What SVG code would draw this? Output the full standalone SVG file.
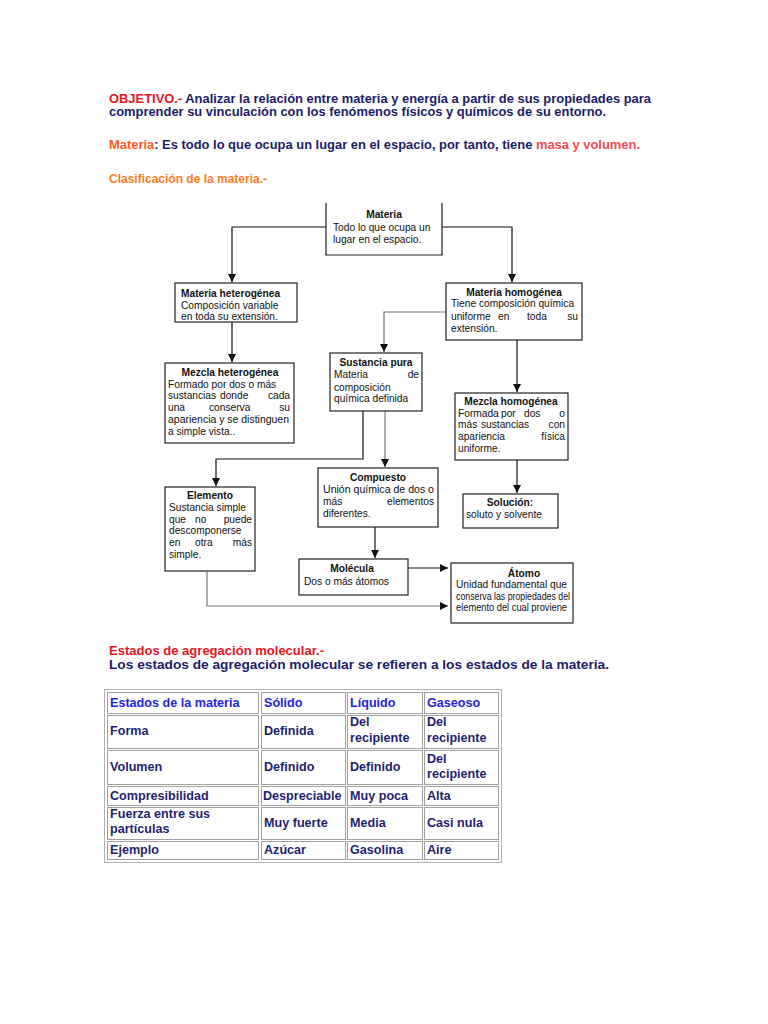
<svg xmlns="http://www.w3.org/2000/svg" width="768" height="1024" viewBox="0 0 768 1024">
<defs>
<marker id="arr" markerUnits="userSpaceOnUse" markerWidth="8" markerHeight="8" refX="8" refY="4" orient="auto">
<path d="M0,0 L8,4 L0,8 z" fill="#111"/>
</marker>
</defs>
<style>
.h{font-family:"Liberation Sans",Arial,sans-serif;font-weight:bold;font-size:13px;fill:#1c1c6a}
.red{fill:#e8141e}
.org{fill:#ff5a1e}
.org2{fill:#ff7a22}
.pink{fill:#f04a55}
.box{fill:#fff;stroke:#222;stroke-width:1.2}
.t{font-family:"Liberation Sans",Arial,sans-serif;font-size:10.2px;fill:#111}
.tb{font-family:"Liberation Sans",Arial,sans-serif;font-size:10.2px;font-weight:bold;fill:#111}
.c{text-anchor:middle}
.e{text-anchor:end}
.ln{fill:none;stroke:#111;stroke-width:1.2}
.lg{fill:none;stroke:#777;stroke-width:1.2}
.cell{fill:#fff;stroke:#a0a0a0;stroke-width:1}
.tt{font-family:"Liberation Sans",Arial,sans-serif;font-weight:bold;font-size:12.6px;fill:#1f1f72}
.th{fill:#2323e0}
</style>
<rect width="768" height="1024" fill="#fff"/>

<g id="header">
<text class="h" x="109" y="103" textLength="542" lengthAdjust="spacingAndGlyphs"><tspan class="red">OBJETIVO.-</tspan> Analizar la relación entre materia y energía a partir de sus propiedades para</text>
<text class="h" x="109" y="116" textLength="497" lengthAdjust="spacingAndGlyphs">comprender su vinculación con los fenómenos físicos y químicos de su entorno.</text>
<text class="h" x="109" y="149" textLength="531" lengthAdjust="spacingAndGlyphs"><tspan class="org">Materia</tspan>: Es todo lo que ocupa un lugar en el espacio, por tanto, tiene <tspan class="pink">masa y volumen.</tspan></text>
<text class="h org2" x="109" y="183" textLength="158" lengthAdjust="spacingAndGlyphs">Clasificación de la materia.-</text>
</g>

<g id="connectors">
<path class="ln" d="M326,227 H232 V282" marker-end="url(#arr)"/>
<path class="ln" d="M442,227 H512 V282" marker-end="url(#arr)"/>
<path class="ln" d="M232,322 V362" marker-end="url(#arr)"/>
<path class="lg" d="M446,312 H384 V352" marker-end="url(#arr)"/>
<path class="ln" d="M517,340 V392" marker-end="url(#arr)"/>
<path class="ln" d="M517,460 V493" marker-end="url(#arr)"/>
<path class="ln" d="M363,411 V459 H216 V486" marker-end="url(#arr)"/>
<path class="lg" d="M385,411 V467" marker-end="url(#arr)"/>
<path class="ln" d="M375,527 V558" marker-end="url(#arr)"/>
<path class="ln" d="M408,568 H448" marker-end="url(#arr)"/>
<path class="lg" d="M207,572 V606 H448" marker-end="url(#arr)"/>
</g>

<g id="n-materia">
<path class="box" d="M326,203 V255 H442 V203"/>
<text class="tb c" x="384" y="218">Materia</text>
<text class="t" x="333" y="231">Todo lo que ocupa un</text>
<text class="t" x="333" y="243">lugar en el espacio.</text>
</g>

<g id="n-mat-hetero">
<rect class="box" x="175" y="283" width="122" height="39"/>
<text class="tb" x="181" y="297">Materia heterogénea</text>
<text class="t" x="181" y="309">Composición variable</text>
<text class="t" x="181" y="320">en toda su extensión.</text>
</g>

<g id="n-mat-homo">
<rect class="box" x="446" y="283" width="136" height="57"/>
<text class="tb c" x="514" y="296">Materia homogénea</text>
<text class="t" x="451" y="307">Tiene composición química</text>
<text class="t" x="451" y="320">uniforme</text>
<text class="t" x="498" y="320">en</text>
<text class="t" x="527" y="320">toda</text>
<text class="t e" x="578" y="320">su</text>
<text class="t" x="451" y="332">extensión.</text>
</g>

<g id="n-mezcla-hetero">
<rect class="box" x="165" y="363" width="129" height="80"/>
<text class="tb c" x="230" y="376">Mezcla heterogénea</text>
<text class="t" x="168" y="388">Formado por dos o más</text>
<text class="t" x="168" y="399">sustancias</text>
<text class="t" x="220" y="399">donde</text>
<text class="t e" x="290" y="399">cada</text>
<text class="t" x="168" y="411">una</text>
<text class="t" x="209" y="411">conserva</text>
<text class="t e" x="290" y="411">su</text>
<text class="t" x="168" y="423" textLength="121" lengthAdjust="spacingAndGlyphs">apariencia y se distinguen</text>
<text class="t" x="168" y="435">a simple vista..</text>
</g>

<g id="n-sustancia">
<rect class="box" x="330" y="353" width="92" height="58"/>
<text class="tb c" x="376" y="366">Sustancia pura</text>
<text class="t" x="334" y="378">Materia</text>
<text class="t e" x="419" y="378">de</text>
<text class="t" x="334" y="391">composición</text>
<text class="t" x="334" y="402">química definida</text>
</g>

<g id="n-mezcla-homo">
<rect class="box" x="455" y="393" width="113" height="67"/>
<text class="tb c" x="511" y="405">Mezcla homogénea</text>
<text class="t" x="458" y="417">Formada</text>
<text class="t" x="501" y="417">por</text>
<text class="t" x="524" y="417">dos</text>
<text class="t e" x="565" y="417">o</text>
<text class="t" x="458" y="428">más</text>
<text class="t" x="481" y="428">sustancias</text>
<text class="t e" x="565" y="428">con</text>
<text class="t" x="458" y="440">apariencia</text>
<text class="t e" x="565" y="440">física</text>
<text class="t" x="458" y="452">uniforme.</text>
</g>

<g id="n-solucion">
<rect class="box" x="463" y="494" width="95" height="34"/>
<text class="tb c" x="510" y="506">Solución:</text>
<text class="t" x="466" y="518">soluto y solvente</text>
</g>

<g id="n-elemento">
<rect class="box" x="165" y="487" width="90" height="84"/>
<text class="tb c" x="210" y="499">Elemento</text>
<text class="t" x="169" y="511">Sustancia simple</text>
<text class="t" x="169" y="523">que</text>
<text class="t" x="195" y="523">no</text>
<text class="t e" x="252" y="523">puede</text>
<text class="t" x="169" y="534">descomponerse</text>
<text class="t" x="169" y="546">en</text>
<text class="t" x="195" y="546">otra</text>
<text class="t e" x="252" y="546">más</text>
<text class="t" x="169" y="558">simple.</text>
</g>

<g id="n-compuesto">
<rect class="box" x="318" y="468" width="120" height="59"/>
<text class="tb c" x="378" y="481">Compuesto</text>
<text class="t" x="323" y="493" textLength="111" lengthAdjust="spacingAndGlyphs">Unión química de dos o</text>
<text class="t" x="323" y="505">más</text>
<text class="t e" x="434" y="505">elementos</text>
<text class="t" x="323" y="517">diferentes.</text>
</g>

<g id="n-molecula">
<rect class="box" x="299" y="559" width="109" height="36"/>
<text class="tb c" x="352" y="572">Molécula</text>
<text class="t" x="304" y="585">Dos o más átomos</text>
</g>

<g id="n-atomo">
<rect class="box" x="451" y="563" width="122" height="60"/>
<text class="tb c" x="524" y="577">Átomo</text>
<text class="t" x="456" y="588">Unidad fundamental que</text>
<text class="t" x="456" y="600" textLength="114" lengthAdjust="spacingAndGlyphs">conserva las propiedades del</text>
<text class="t" x="456" y="611" textLength="111" lengthAdjust="spacingAndGlyphs">elemento del cual proviene</text>
</g>

<g id="estados">
<text class="h red" x="109" y="655" textLength="215" lengthAdjust="spacingAndGlyphs">Estados de agregación molecular.-</text>
<text class="h" x="109" y="669" textLength="500" lengthAdjust="spacingAndGlyphs">Los estados de agregación molecular se refieren a los estados de la materia.</text>
</g>

<g id="table">
<rect x="104.5" y="689.5" width="397" height="173" fill="#fff" stroke="#b0b0b0" stroke-width="1"/>
<rect class="cell" x="107.5" y="692.5" width="151" height="21"/>
<rect class="cell" x="261.5" y="692.5" width="84" height="21"/>
<rect class="cell" x="347.5" y="692.5" width="75" height="21"/>
<rect class="cell" x="424.5" y="692.5" width="74" height="21"/>
<rect class="cell" x="107.5" y="715.5" width="151" height="33"/>
<rect class="cell" x="261.5" y="715.5" width="84" height="33"/>
<rect class="cell" x="347.5" y="715.5" width="75" height="33"/>
<rect class="cell" x="424.5" y="715.5" width="74" height="33"/>
<rect class="cell" x="107.5" y="750.5" width="151" height="34"/>
<rect class="cell" x="261.5" y="750.5" width="84" height="34"/>
<rect class="cell" x="347.5" y="750.5" width="75" height="34"/>
<rect class="cell" x="424.5" y="750.5" width="74" height="34"/>
<rect class="cell" x="107.5" y="786.5" width="151" height="19"/>
<rect class="cell" x="261.5" y="786.5" width="84" height="19"/>
<rect class="cell" x="347.5" y="786.5" width="75" height="19"/>
<rect class="cell" x="424.5" y="786.5" width="74" height="19"/>
<rect class="cell" x="107.5" y="807.5" width="151" height="32"/>
<rect class="cell" x="261.5" y="807.5" width="84" height="32"/>
<rect class="cell" x="347.5" y="807.5" width="75" height="32"/>
<rect class="cell" x="424.5" y="807.5" width="74" height="32"/>
<rect class="cell" x="107.5" y="841.5" width="151" height="18"/>
<rect class="cell" x="261.5" y="841.5" width="84" height="18"/>
<rect class="cell" x="347.5" y="841.5" width="75" height="18"/>
<rect class="cell" x="424.5" y="841.5" width="74" height="18"/>

<text class="tt th" x="110" y="707">Estados de la materia</text>
<text class="tt th" x="264" y="707">Sólido</text>
<text class="tt th" x="350" y="707">Líquido</text>
<text class="tt th" x="427" y="707">Gaseoso</text>

<text class="tt" x="110" y="735">Forma</text>
<text class="tt" x="264" y="735">Definida</text>
<text class="tt" x="350" y="726">Del</text>
<text class="tt" x="350" y="742">recipiente</text>
<text class="tt" x="427" y="726">Del</text>
<text class="tt" x="427" y="742">recipiente</text>

<text class="tt" x="110" y="771">Volumen</text>
<text class="tt" x="264" y="771">Definido</text>
<text class="tt" x="350" y="771">Definido</text>
<text class="tt" x="427" y="763">Del</text>
<text class="tt" x="427" y="778">recipiente</text>

<text class="tt" x="110" y="800">Compresibilidad</text>
<text class="tt" x="263" y="800">Despreciable</text>
<text class="tt" x="350" y="800">Muy poca</text>
<text class="tt" x="427" y="800">Alta</text>

<text class="tt" x="110" y="818">Fuerza entre sus</text>
<text class="tt" x="110" y="833">partículas</text>
<text class="tt" x="264" y="827">Muy fuerte</text>
<text class="tt" x="350" y="827">Media</text>
<text class="tt" x="427" y="827">Casi nula</text>

<text class="tt" x="110" y="854">Ejemplo</text>
<text class="tt" x="264" y="854">Azúcar</text>
<text class="tt" x="350" y="854">Gasolina</text>
<text class="tt" x="427" y="854">Aire</text>
</g>
</svg>
